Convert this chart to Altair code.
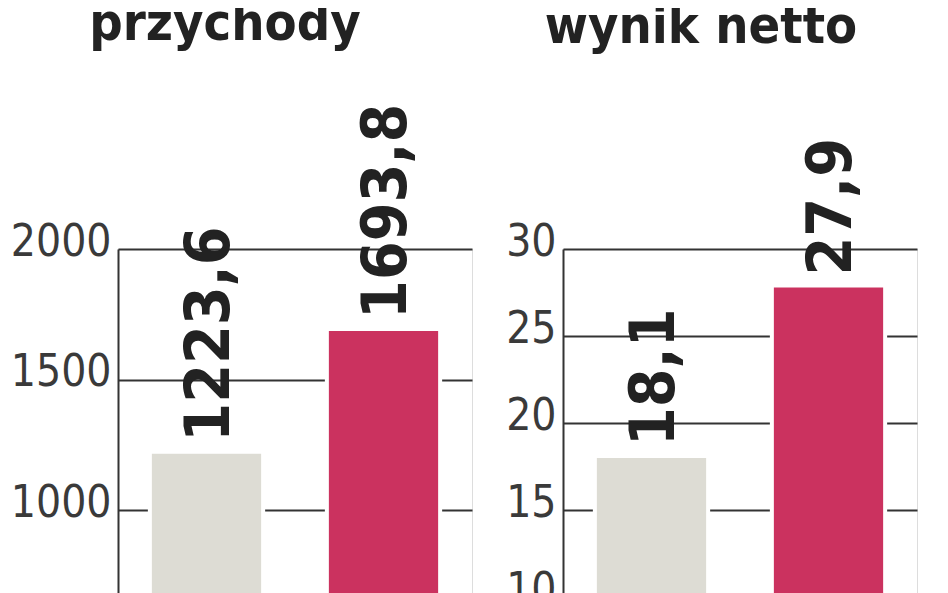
import altair as alt
import pandas as pd

panel_titles = ["przychody", "wynik netto"]
periods = ["poprzedni okres", "bieżący okres"]
revenue = [1223.6, 1693.8]
net_income = [18.1, 27.9]
y_max = [2000, 30]
y_step = [500, 5]
colors = ["#dddcd4", "#cb325f"]

FONT = "DejaVu Sans Condensed"


def panel(title, values, ymax, step, tdx, tdy):
    df = pd.DataFrame({
        "okres": periods,
        "wartosc": values,
        "etykieta": [f"{v:.1f}".replace(".", ",") for v in values],
    })
    base = alt.Chart(df).encode(
        x=alt.X("okres:N", sort=periods, axis=None,
                scale=alt.Scale(paddingInner=0.36, paddingOuter=0.18)),
        y=alt.Y("wartosc:Q",
                scale=alt.Scale(domain=[0, ymax], nice=False),
                axis=alt.Axis(values=list(range(0, ymax + 1, step)), title=None, format="d",
                              grid=True, gridColor="#333333", gridWidth=2, gridOpacity=1,
                              domain=True, domainColor="#333333", domainWidth=2,
                              ticks=False, labelFont=FONT, labelFontSize=44,
                              labelColor="#3a3a3a", labelPadding=7,
                              labelBaseline="alphabetic", labelOffset=6)),
    )
    bars = base.mark_bar(stroke="white", strokeWidth=4).encode(
        color=alt.Color("okres:N", scale=alt.Scale(domain=periods, range=colors), legend=None)
    )
    text = base.mark_text(angle=270, align="left", baseline="middle", dx=10, dy=3,
                          font=FONT, fontWeight="bold", fontSize=62,
                          color="#222222").encode(text="etykieta:N")
    return (bars + text).properties(
        width=354, height=522,
        title=alt.TitleParams(title, fontSize=52, font=FONT, fontWeight="bold",
                              color="#222222", anchor="middle", dx=tdx, dy=tdy, offset=53),
    )


chart = alt.hconcat(
    panel(panel_titles[0], revenue, y_max[0], y_step[0], -70, 0),
    panel(panel_titles[1], net_income, y_max[1], y_step[1], -39, -31),
    spacing=32,
).properties(
    padding={"top": -11, "left": 1, "right": 5, "bottom": 5}
).configure_view(stroke=None).configure(background="white")

chart.save("out.html", embed_options={"renderer": "svg", "actions": False})
